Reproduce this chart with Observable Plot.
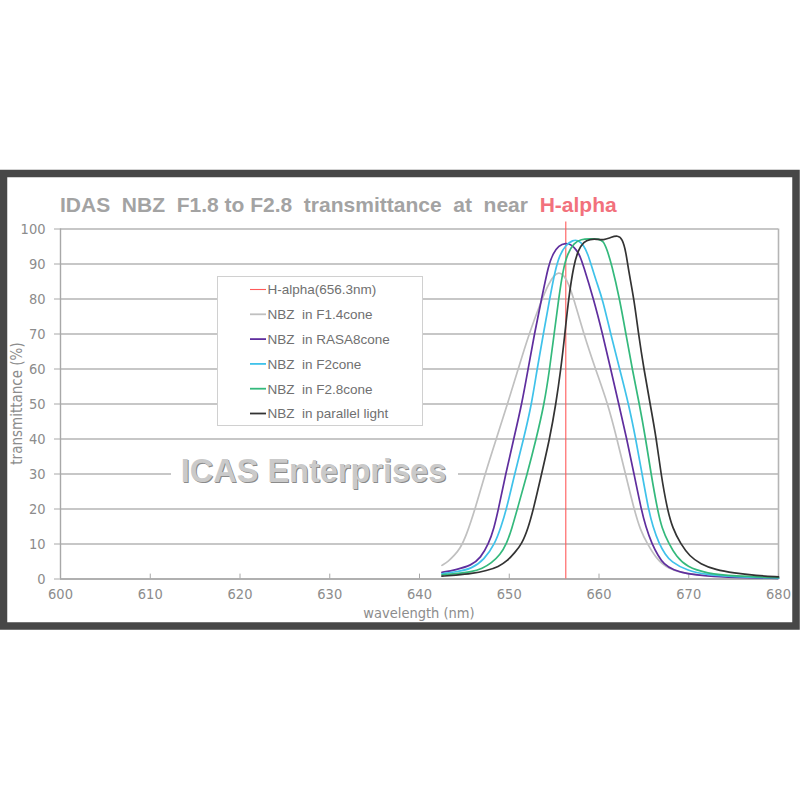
<!DOCTYPE html>
<html><head><meta charset="utf-8">
<script src="https://cdn.jsdelivr.net/npm/d3@7"></script>
<script src="https://cdn.jsdelivr.net/npm/@observablehq/plot@0.6"></script>
<style>
body{margin:0;background:#fff;}
#wrap{position:relative;width:800px;height:800px;}
</style></head><body><div id="wrap"></div>
<script>
// ---- data ----
const seriesNames = ["NBZ  in F1.4cone", "NBZ  in RASA8cone", "NBZ  in F2cone", "NBZ  in F2.8cone", "NBZ  in parallel light"];
const seriesColors = ["#c0c0c0", "#5f2e9e", "#3fc2ea", "#34b97c", "#333333"];
const hAlphaLabel = "H-alpha(656.3nm)";
const hAlpha = 656.3;
const hAlphaColor = "#ff5a5a";

const wlF14 = [642.5, 643.2, 643.9, 644.5, 645.2, 646.2, 647.3, 648.55, 649.8, 651.0, 652.2, 653.5, 654.4, 655.0, 655.5, 656.0, 656.6, 657.2, 658.3, 659.6, 661.0, 662.0, 662.95, 663.9, 664.6, 665.4, 666.4, 667.6, 670.0, 675.0, 680.0];
const tF14  = [3.9, 5.0, 6.8, 8.6, 12.3, 20, 30, 40, 50, 60, 70, 79, 84.5, 86.8, 87.6, 87.1, 84.5, 80, 70, 60, 50, 40, 30, 20, 14, 10, 5.8, 3, 1.2, 0.4, 0.2];

const wlRASA = [642.5, 644.0, 645.8, 646.8, 647.7, 648.3, 648.8, 649.6, 650.5, 651.4, 652.1, 652.8, 653.6, 654.4, 654.9, 655.5, 656.3, 656.9, 657.5, 657.9, 658.2, 659.4, 660.4, 661.3, 662.2, 663.1, 663.9, 664.7, 665.2, 665.9, 666.6, 667.2, 668.3, 669.8, 672.0, 675.0, 680.0];
const tRASA  = [1.9, 2.6, 3.9, 6, 10, 14.5, 20, 30, 40, 50, 60, 70, 80, 90, 93, 95.3, 96.0, 95.6, 94.0, 92.2, 90, 80, 70, 60, 50, 40, 30, 20, 15, 10, 6.6, 4.3, 2.5, 1.5, 0.8, 0.4, 0.2];

const wlF2 = [642.5, 644.0, 645.8, 647.2, 648.4, 649.1, 649.7, 650.6, 651.6, 652.5, 653.1, 653.8, 654.5, 655.1, 655.6, 656.3, 657.1, 657.6, 658.3, 658.8, 659.1, 659.7, 660.4, 661.3, 662.3, 663.3, 664.1, 664.8, 665.5, 666.0, 666.7, 667.4, 668.0, 669.8, 672.0, 675.0, 680.0];
const tF2  = [1.5, 2.0, 2.9, 5.5, 10, 15, 20, 30, 40, 50, 60, 70, 80, 88, 92.5, 95.5, 96.8, 96.9, 95.5, 92.5, 90, 85, 80, 70, 60, 50, 40, 30, 20, 15, 10, 7, 5, 2.4, 1.2, 0.6, 0.3];

const wlF28 = [642.5, 644.0, 645.8, 647.0, 648.0, 649.0, 649.7, 650.3, 650.9, 652.0, 653.0, 653.9, 654.5, 655.0, 655.5, 656.0, 656.5, 657.2, 658.0, 659.0, 659.9, 660.5, 660.9, 661.4, 662.3, 663.0, 663.7, 664.5, 665.2, 665.8, 666.5, 667.0, 667.8, 668.6, 669.8, 672.0, 675.0, 680.0];
const tF28  = [1.2, 1.5, 2.0, 3, 4.5, 7, 10, 14.5, 20, 30, 40, 50, 60, 70, 80, 88.5, 93, 96, 97.1, 97.2, 97.2, 96.6, 94, 90, 80, 70, 60, 50, 40, 30, 20, 14.5, 10, 6.5, 3.4, 1.6, 0.8, 0.4];

const wlPar = [642.5, 644.0, 645.8, 647.5, 648.8, 649.8, 650.6, 651.4, 652.1, 652.7, 653.6, 654.5, 655.2, 655.75, 656.2, 656.6, 657.2, 657.7, 658.3, 659.0, 659.8, 660.5, 661.3, 662.1, 662.6, 663.0, 663.3, 663.9, 664.4, 665.0, 665.7, 666.4, 666.9, 667.6, 668.2, 669.1, 670.1, 671.3, 673.0, 675.0, 677.5, 680.0];
const tPar  = [0.8, 1.1, 1.5, 2.4, 3.5, 5.2, 7.5, 10, 14.5, 20, 30, 40, 50, 60, 70, 80, 90, 94, 96.4, 97.1, 97.1, 96.8, 97.6, 98.2, 97.2, 93.5, 88, 80, 70, 60, 50, 40, 30, 20, 14.5, 10, 6.5, 4.3, 2.6, 1.7, 1.0, 0.6];

const xTicks = [600, 610, 620, 630, 640, 650, 660, 670, 680];
const yTicks = [0, 10, 20, 30, 40, 50, 60, 70, 80, 90, 100];

const titleMain = "IDAS  NBZ  F1.8 to F2.8  transmittance  at  near  ";
const titleHighlight = "H-alpha";
const xLabel = "wavelength (nm)";
const yLabel = "transmittance (%)";
const watermark = "ICAS Enterprises";

// ---- build table ----
const allWl = [wlF14, wlRASA, wlF2, wlF28, wlPar];
const allT = [tF14, tRASA, tF2, tF28, tPar];
const rows = [];
seriesNames.forEach((s, i) => allWl[i].forEach((w, j) => rows.push({series: s, wl: w, t: allT[i][j]})));

const narrow = "'Liberation Sans Narrow', 'Arial Narrow', 'DejaVu Sans Condensed', sans-serif";
const sans = "'Liberation Sans', Arial, sans-serif";

const chart = Plot.plot({
  width: 800, height: 800,
  marginLeft: 60, marginRight: 22, marginTop: 228.5, marginBottom: 221.5,
  style: {fontFamily: narrow, background: "white", color: "#8c8c8c"},
  x: {domain: [600, 680], label: null},
  y: {domain: [0, 100], label: null},
  color: {domain: seriesNames, range: seriesColors},
  marks: [
    Plot.gridY(yTicks, {stroke: "#b5b5b5", strokeOpacity: 1, strokeWidth: 1.6}),
    Plot.ruleX([680], {y1: 0, y2: 100, stroke: "#b5b5b5", strokeWidth: 1.6}),
    Plot.ruleX([600], {y1: 0, y2: 100, stroke: "#a8a8a8", strokeWidth: 1.4}),
    Plot.ruleY([0], {x1: 600, x2: 680, stroke: "#a8a8a8", strokeWidth: 1.4}),
    Plot.ruleX(xTicks, {y1: 0, y2: 1.4, stroke: "#a8a8a8", strokeWidth: 1}),
    Plot.axisY(yTicks, {tickSize: 6, tickPadding: 9, fontSize: 14.5, stroke: "#a8a8a8", fill: "#8c8c8c", label: null}),
    Plot.axisX(xTicks, {tickSize: 0, tickPadding: 10, fontSize: 14.5, fill: "#8c8c8c", label: null}),
    Plot.ruleX([hAlpha], {y1: 0, y2: 102, stroke: hAlphaColor, strokeWidth: 1.1}),
    Plot.line(rows, {x: "wl", y: "t", z: "series", stroke: "series", curve: "basis", strokeWidth: 1.7})
  ]
});
document.getElementById("wrap").appendChild(chart);

// ---- decorations (frame, title, legend, watermark) ----
const svg = d3.select(chart);
const grid = chart.querySelector('g[aria-label="y-grid"]');
const deco = document.createElementNS("http://www.w3.org/2000/svg", "g");
grid.parentNode.insertBefore(deco, grid.nextSibling);
const dg = d3.select(deco).attr("text-anchor", "start");
// watermark gap in gridline
dg.append("rect").attr("x", 171).attr("y", 458).attr("width", 287).attr("height", 28).attr("fill", "white");
// legend box
dg.append("rect").attr("x", 217.5).attr("y", 276.5).attr("width", 205).attr("height", 149)
  .attr("fill", "white").attr("stroke", "#d0d0d0").attr("stroke-width", 1);
const legendLabels = [hAlphaLabel, ...seriesNames];
const legendColors = [hAlphaColor, ...seriesColors];
legendLabels.forEach((lab, i) => {
  const y = 289.5 + i * 24.8;
  dg.append("line").attr("x1", 250).attr("x2", 266).attr("y1", y).attr("y2", y)
    .attr("stroke", legendColors[i]).attr("stroke-width", i === 0 ? 1.1 : 1.8);
  dg.append("text").attr("x", 267.5).attr("y", y).attr("dy", "0.36em").attr("text-anchor", "start")
    .attr("font-family", sans).attr("font-size", 13.5).attr("fill", "#707070")
    .style("white-space", "pre").text(lab);
});
// watermark text
const wm = dg.append("g").attr("font-family", sans).attr("font-weight", "bold").attr("font-size", 32.5)
  .attr("text-anchor", "middle");
wm.append("text").attr("x", 314.5).attr("y", 483).attr("fill", "#8a8a8a").text(watermark);
wm.append("text").attr("x", 313.5).attr("y", 482).attr("fill", "#cacaca").text(watermark);

// frame (behind everything)
const first = chart.firstChild;
const frame = document.createElementNS("http://www.w3.org/2000/svg", "rect");
chart.insertBefore(frame, first);
d3.select(frame).attr("x", 3.5).attr("y", 173.5).attr("width", 792.5).attr("height", 452.5)
  .attr("fill", "white").attr("stroke", "#474747").attr("stroke-width", 7.5);

// title
const title = svg.append("text").attr("x", 60).attr("y", 212).attr("text-anchor", "start").attr("font-family", sans)
  .attr("font-weight", "bold").attr("font-size", 21).attr("fill", "#a3a3a3").style("white-space", "pre");
title.append("tspan").text(titleMain);
title.append("tspan").attr("fill", "#f2717c").text(titleHighlight);

// axis labels
svg.append("text").attr("x", 419).attr("y", 618).attr("text-anchor", "middle")
  .attr("font-family", narrow).attr("font-size", 14.5).attr("fill", "#8c8c8c").text(xLabel);
svg.append("text").attr("transform", "translate(22,403.5) rotate(-90)").attr("text-anchor", "middle")
  .attr("font-family", narrow).attr("font-size", 15).attr("fill", "#8c8c8c").text(yLabel);
</script></body></html>
